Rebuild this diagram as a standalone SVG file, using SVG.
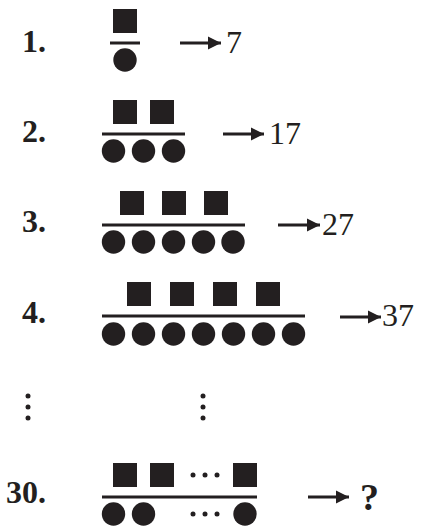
<svg xmlns="http://www.w3.org/2000/svg" width="422" height="532" viewBox="0 0 422 532">
<style>
.lbl{font-family:"Liberation Serif","Times New Roman",serif;font-weight:bold;font-size:32px;fill:#231f20;text-anchor:end}
.val{font-family:"Liberation Serif","Times New Roman",serif;font-size:32px;fill:#231f20}
.q{font-family:"Liberation Serif","Times New Roman",serif;font-weight:bold;font-size:38px;fill:#231f20}
.bar{stroke:#231f20;stroke-width:3}
.arr{stroke:#231f20;stroke-width:2.8;marker-end:url(#ah)}
rect{fill:#231f20}
circle{fill:#231f20}
</style>
<defs>
<marker id="ah" markerUnits="userSpaceOnUse" markerWidth="14" markerHeight="14" refX="13" refY="7" orient="auto">
<path d="M0,0.5 L13,7 L0,13.5 Z" fill="#231f20"/>
</marker>
</defs>
<rect x="0" y="0" width="422" height="532" fill="#fff" style="fill:#fff"/>
<g id="row1">
<text class="lbl" x="46" y="52">1.</text>
<rect x="113" y="9" width="24" height="24"/>
<line class="bar" x1="110" y1="43" x2="140" y2="43"/>
<circle cx="125" cy="60" r="11.7"/>
</g>
<g id="row2">
<text class="lbl" x="46" y="142">2.</text>
<rect x="113" y="100" width="24" height="24"/>
<rect x="150" y="100" width="24" height="24"/>
<line class="bar" x1="102" y1="134" x2="185" y2="134"/>
<circle cx="113.5" cy="151" r="11.7"/>
<circle cx="143.5" cy="151" r="11.7"/>
<circle cx="173.5" cy="151" r="11.7"/>
</g>
<g id="row3">
<text class="lbl" x="46" y="232">3.</text>
<rect x="120" y="191" width="24" height="24"/>
<rect x="162" y="191" width="24" height="24"/>
<rect x="204" y="191" width="24" height="24"/>
<line class="bar" x1="102" y1="225" x2="245" y2="225"/>
<circle cx="113.5" cy="242" r="11.7"/>
<circle cx="143.5" cy="242" r="11.7"/>
<circle cx="173.5" cy="242" r="11.7"/>
<circle cx="203.5" cy="242" r="11.7"/>
<circle cx="233" cy="242" r="11.7"/>
</g>
<g id="row4">
<text class="lbl" x="46" y="323">4.</text>
<rect x="127" y="282" width="24" height="24"/>
<rect x="170" y="282" width="24" height="24"/>
<rect x="213" y="282" width="24" height="24"/>
<rect x="256" y="282" width="24" height="24"/>
<line class="bar" x1="102" y1="316" x2="305" y2="316"/>
<circle cx="113.5" cy="334" r="11.7"/>
<circle cx="143.5" cy="334" r="11.7"/>
<circle cx="173.5" cy="334" r="11.7"/>
<circle cx="203.5" cy="334" r="11.7"/>
<circle cx="233.5" cy="334" r="11.7"/>
<circle cx="263.5" cy="334" r="11.7"/>
<circle cx="293.5" cy="334" r="11.7"/>
</g>
<g id="vdots">
<circle cx="28" cy="396" r="2.5"/>
<circle cx="28" cy="407" r="2.5"/>
<circle cx="28" cy="418" r="2.5"/>
<circle cx="203" cy="396" r="2.5"/>
<circle cx="203" cy="407" r="2.5"/>
<circle cx="203" cy="418" r="2.5"/>
</g>
<g id="row30">
<text class="lbl" x="46" y="503">30.</text>
<rect x="113" y="463" width="24" height="24"/>
<rect x="150" y="463" width="24" height="24"/>
<circle cx="193" cy="475" r="2.5"/>
<circle cx="205" cy="475" r="2.5"/>
<circle cx="217" cy="475" r="2.5"/>
<rect x="233" y="463" width="24" height="24"/>
<line class="bar" x1="102" y1="497" x2="257" y2="497"/>
<circle cx="113.5" cy="514" r="11.7"/>
<circle cx="143.5" cy="514" r="11.7"/>
<circle cx="193" cy="514" r="2.5"/>
<circle cx="205" cy="514" r="2.5"/>
<circle cx="217" cy="514" r="2.5"/>
<circle cx="245" cy="514" r="11.7"/>
</g>
<g id="connectors">
<line class="arr" x1="180" y1="43" x2="221" y2="43"/>
<line class="arr" x1="223" y1="134" x2="264" y2="134"/>
<line class="arr" x1="278" y1="225" x2="320" y2="225"/>
<line class="arr" x1="340" y1="317" x2="381" y2="317"/>
<line class="arr" x1="308" y1="497" x2="349" y2="497"/>
</g>
<g id="values">
<text class="val" x="226" y="53">7</text>
<text class="val" x="269" y="144">17</text>
<text class="val" x="322" y="235">27</text>
<text class="val" x="382" y="326">37</text>
<text class="q" x="360" y="510">?</text>
</g>
</svg>
